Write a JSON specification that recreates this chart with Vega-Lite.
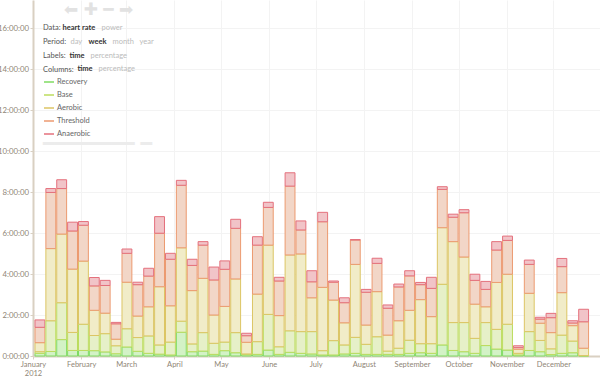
{
  "$schema": "https://vega.github.io/schema/vega-lite/v6.json",
  "width": 567,
  "height": 356,
  "autosize": {"type": "none"},
  "padding": {"left": 33, "top": 0, "right": 0, "bottom": 20},
  "background": "white",
  "config": {"view": {"stroke": null}, "font": "Lato"},
  "title": {"text": "⬅ ✚ ━ ➡", "anchor": "start", "orient": "top", "frame": "group", "offset": -19, "dx": 31, "fontSize": 17, "color": "#e2e2e2", "font": "DejaVu Sans", "fontWeight": "normal"},
  "resolve": {"scale": {"shape": "independent"}, "legend": {"shape": "independent"}},
  "layer": [
    {
      "data": {"values": [
        {"week":"2012-01-01","Recovery":0.13,"Base":0.08,"Aerobic":0.44,"Threshold":0.75,"Anaerobic":0.36},
        {"week":"2012-01-08","Recovery":0.22,"Base":1.50,"Aerobic":3.52,"Threshold":2.74,"Anaerobic":0.19},
        {"week":"2012-01-15","Recovery":0.80,"Base":1.80,"Aerobic":3.35,"Threshold":2.22,"Anaerobic":0.43},
        {"week":"2012-01-22","Recovery":0.27,"Base":0.88,"Aerobic":3.09,"Threshold":1.86,"Anaerobic":0.43},
        {"week":"2012-01-29","Recovery":0.27,"Base":1.28,"Aerobic":3.08,"Threshold":1.75,"Anaerobic":0.18},
        {"week":"2012-02-05","Recovery":0.26,"Base":0.74,"Aerobic":1.23,"Threshold":1.19,"Anaerobic":0.41},
        {"week":"2012-02-12","Recovery":0.20,"Base":0.89,"Aerobic":1.00,"Threshold":1.35,"Anaerobic":0.25},
        {"week":"2012-02-19","Recovery":0.11,"Base":0.39,"Aerobic":0.32,"Threshold":0.75,"Anaerobic":0.07},
        {"week":"2012-02-26","Recovery":0.44,"Base":0.89,"Aerobic":2.27,"Threshold":1.41,"Anaerobic":0.21},
        {"week":"2012-03-04","Recovery":0.23,"Base":0.67,"Aerobic":1.05,"Threshold":1.53,"Anaerobic":0.12},
        {"week":"2012-03-11","Recovery":0.13,"Base":0.85,"Aerobic":1.42,"Threshold":1.50,"Anaerobic":0.38},
        {"week":"2012-03-18","Recovery":0.09,"Base":0.45,"Aerobic":2.84,"Threshold":2.61,"Anaerobic":0.81},
        {"week":"2012-03-25","Recovery":0.05,"Base":0.63,"Aerobic":1.77,"Threshold":2.27,"Anaerobic":0.29},
        {"week":"2012-04-01","Recovery":1.16,"Base":0.54,"Aerobic":3.58,"Threshold":3.05,"Anaerobic":0.24},
        {"week":"2012-04-08","Recovery":0.21,"Base":0.38,"Aerobic":2.60,"Threshold":1.23,"Anaerobic":0.30},
        {"week":"2012-04-15","Recovery":0.24,"Base":0.90,"Aerobic":2.65,"Threshold":1.62,"Anaerobic":0.17},
        {"week":"2012-04-22","Recovery":0.08,"Base":0.54,"Aerobic":1.38,"Threshold":1.71,"Anaerobic":0.63},
        {"week":"2012-04-29","Recovery":0.26,"Base":0.42,"Aerobic":1.74,"Threshold":1.81,"Anaerobic":0.41},
        {"week":"2012-05-06","Recovery":0.16,"Base":0.98,"Aerobic":2.62,"Threshold":2.47,"Anaerobic":0.44},
        {"week":"2012-05-13","Recovery":0.06,"Base":0.04,"Aerobic":0.57,"Threshold":0.32,"Anaerobic":0.12},
        {"week":"2012-05-20","Recovery":0.08,"Base":0.62,"Aerobic":2.32,"Threshold":2.39,"Anaerobic":0.41},
        {"week":"2012-05-27","Recovery":0.29,"Base":1.74,"Aerobic":3.38,"Threshold":1.84,"Anaerobic":0.25},
        {"week":"2012-06-03","Recovery":0.08,"Base":0.37,"Aerobic":1.52,"Threshold":1.69,"Anaerobic":0.18},
        {"week":"2012-06-10","Recovery":0.18,"Base":1.05,"Aerobic":3.70,"Threshold":3.36,"Anaerobic":0.65},
        {"week":"2012-06-17","Recovery":0.13,"Base":1.06,"Aerobic":3.79,"Threshold":1.17,"Anaerobic":0.44},
        {"week":"2012-06-24","Recovery":0.10,"Base":1.09,"Aerobic":1.65,"Threshold":0.78,"Anaerobic":0.54},
        {"week":"2012-07-01","Recovery":0.05,"Base":0.21,"Aerobic":3.09,"Threshold":3.20,"Anaerobic":0.46},
        {"week":"2012-07-08","Recovery":0.05,"Base":0.70,"Aerobic":1.98,"Threshold":0.87,"Anaerobic":0.06},
        {"week":"2012-07-15","Recovery":0.10,"Base":0.44,"Aerobic":1.08,"Threshold":0.98,"Anaerobic":0.24},
        {"week":"2012-07-22","Recovery":0.13,"Base":0.78,"Aerobic":3.56,"Threshold":1.19,"Anaerobic":0.02},
        {"week":"2012-07-29","Recovery":0.08,"Base":0.49,"Aerobic":0.94,"Threshold":1.60,"Anaerobic":0.14},
        {"week":"2012-08-05","Recovery":0.08,"Base":0.86,"Aerobic":2.20,"Threshold":1.38,"Anaerobic":0.25},
        {"week":"2012-08-12","Recovery":0.08,"Base":0.16,"Aerobic":0.78,"Threshold":1.31,"Anaerobic":0.16},
        {"week":"2012-08-19","Recovery":0.08,"Base":0.30,"Aerobic":1.34,"Threshold":1.65,"Anaerobic":0.14},
        {"week":"2012-08-26","Recovery":0.13,"Base":0.64,"Aerobic":1.46,"Threshold":1.68,"Anaerobic":0.25},
        {"week":"2012-09-02","Recovery":0.16,"Base":0.44,"Aerobic":2.15,"Threshold":0.73,"Anaerobic":0.11},
        {"week":"2012-09-09","Recovery":0.13,"Base":0.47,"Aerobic":1.32,"Threshold":1.38,"Anaerobic":0.54},
        {"week":"2012-09-16","Recovery":0.54,"Base":2.96,"Aerobic":2.76,"Threshold":1.87,"Anaerobic":0.13},
        {"week":"2012-09-23","Recovery":0.27,"Base":1.36,"Aerobic":3.95,"Threshold":1.19,"Anaerobic":0.15},
        {"week":"2012-09-30","Recovery":0.21,"Base":1.42,"Aerobic":3.20,"Threshold":2.16,"Anaerobic":0.15},
        {"week":"2012-10-07","Recovery":0.13,"Base":0.73,"Aerobic":1.67,"Threshold":1.16,"Anaerobic":0.30},
        {"week":"2012-10-14","Recovery":0.51,"Base":1.12,"Aerobic":0.77,"Threshold":0.85,"Anaerobic":0.39},
        {"week":"2012-10-21","Recovery":0.34,"Base":0.96,"Aerobic":2.29,"Threshold":1.58,"Anaerobic":0.41},
        {"week":"2012-10-28","Recovery":0.29,"Base":1.26,"Aerobic":2.44,"Threshold":1.65,"Anaerobic":0.21},
        {"week":"2012-11-04","Recovery":0.05,"Base":0.08,"Aerobic":0.20,"Threshold":0.08,"Anaerobic":0.09},
        {"week":"2012-11-11","Recovery":0.27,"Base":0.92,"Aerobic":1.87,"Threshold":1.41,"Anaerobic":0.21},
        {"week":"2012-11-18","Recovery":0.21,"Base":0.55,"Aerobic":0.84,"Threshold":0.20,"Anaerobic":0.09},
        {"week":"2012-11-25","Recovery":0.07,"Base":0.28,"Aerobic":0.79,"Threshold":0.73,"Anaerobic":0.21},
        {"week":"2012-12-02","Recovery":0.13,"Base":0.89,"Aerobic":2.07,"Threshold":1.27,"Anaerobic":0.40},
        {"week":"2012-12-09","Recovery":0.16,"Base":0.57,"Aerobic":0.75,"Threshold":0.13,"Anaerobic":0.11},
        {"week":"2012-12-16","Recovery":0.01,"Base":0.01,"Aerobic":0.36,"Threshold":1.29,"Anaerobic":0.61}
      ]},
      "transform": [
        {"fold": ["Recovery", "Base", "Aerobic", "Threshold", "Anaerobic"], "as": ["zone", "hours"]},
        {"lookup": "zone", "from": {"data": {"values": [
          {"zone": "Recovery", "zi": 1}, {"zone": "Base", "zi": 2}, {"zone": "Aerobic", "zi": 3},
          {"zone": "Threshold", "zi": 4}, {"zone": "Anaerobic", "zi": 5}]}, "key": "zone", "fields": ["zi"]}}
      ],
      "mark": {"type": "bar", "strokeWidth": 1, "xOffset": 1},
      "encoding": {
        "x": {
          "field": "week", "type": "temporal", "timeUnit": "utcyearweek",
          "scale": {"domain": [{"year": 2012, "month": 1, "date": 1, "utc": true}, {"year": 2012, "month": 12, "date": 31, "utc": true}]},
          "axis": {
            "title": null, "tickCount": {"interval": "month", "step": 1},
            "labelExpr": "utcmonth(datum.value) == 0 ? [utcFormat(datum.value, '%B'), utcFormat(datum.value, '%Y')] : utcFormat(datum.value, '%B')",
            "labelFlush": false, "labelOverlap": false, "labelFontSize": 7.5, "labelColor": "#8f8576", "labelPadding": 1.5, "labelLineHeight": 8.5,
            "grid": true, "gridColor": "#f3f3f3", "domainColor": "#d9d0c2", "domainWidth": 2,
            "tickColor": "#d9d0c2", "tickSize": 3
          }
        },
        "y": {
          "field": "hours", "type": "quantitative", "stack": "zero",
          "scale": {"domain": [0, 17.37], "nice": false},
          "axis": {
            "title": null, "values": [0, 2, 4, 6, 8, 10, 12, 14, 16],
            "labelExpr": "datum.value + ':00:00'", "labelFontSize": 7.8, "labelColor": "#8f8576", "labelPadding": 1.5,
            "grid": true, "gridColor": "#f3f3f3", "domainColor": "#d9d0c2", "domainWidth": 2,
            "tickColor": "#d9d0c2", "tickSize": 3
          }
        },
        "fill": {
          "field": "zone", "type": "nominal",
          "scale": {"domain": ["Recovery", "Base", "Aerobic", "Threshold", "Anaerobic"], "range": ["#d3f2c6", "#e6f0c8", "#f1ecc8", "#f2d6c7", "#f1c4c8"]},
          "legend": {
            "orient": "none", "legendX": 10, "legendY": 76, "title": "━━━━━━━━ ━", "titleOrient": "bottom", "titlePadding": -3,
            "titleFont": "DejaVu Sans", "titleFontSize": 19, "titleColor": "#ececec", "titleFontWeight": "normal", "padding": 0,
            "symbolType": "stroke", "symbolSize": 100, "symbolStrokeWidth": 1.5,
            "labelFontSize": 7.5, "labelColor": "#666666", "labelOffset": 2, "rowPadding": 3
          }
        },
        "stroke": {
          "field": "zone", "type": "nominal",
          "scale": {"domain": ["Recovery", "Base", "Aerobic", "Threshold", "Anaerobic"], "range": ["#7fdb62", "#bcdc5e", "#dcc564", "#ec9a70", "#e4707c"]},
          "legend": {
            "orient": "none", "legendX": 10, "legendY": 76, "title": "━━━━━━━━ ━", "titleOrient": "bottom", "titlePadding": -3,
            "titleFont": "DejaVu Sans", "titleFontSize": 19, "titleColor": "#ececec", "titleFontWeight": "normal", "padding": 0,
            "symbolType": "stroke", "symbolSize": 100, "symbolStrokeWidth": 1.5,
            "labelFontSize": 7.5, "labelColor": "#666666", "labelOffset": 2, "rowPadding": 3
          }
        },
        "order": {"field": "zi", "type": "quantitative"}
      }
    },
    {
      "data": {"values": [{"o": "heart rate"}, {"o": "power"}]},
      "mark": {"type": "point", "opacity": 0, "size": 1},
      "encoding": {
        "shape": {
          "field": "o", "type": "nominal", "scale": {"domain": ["heart rate", "power"]},
          "legend": {
            "orient": "none", "legendX": 10, "legendY": 24, "direction": "horizontal", "padding": 0, "gridAlign": "none",
            "title": "Data:", "titleOrient": "left", "titlePadding": -6, "titleFontSize": 7.5, "titleFontWeight": "normal", "titleColor": "#555555",
            "symbolSize": 1, "symbolOpacity": 0, "symbolStrokeWidth": 0, "labelOffset": 0, "columnPadding": -2,
            "labelFontSize": 7.5,
            "labelFontWeight": {"expr": "datum.label === 'heart rate' ? 'bold' : 'normal'"},
            "labelColor": {"expr": "datum.label === 'heart rate' ? '#333333' : '#bbbbbb'"}
          }
        }
      }
    },
    {
      "data": {"values": [{"o": "day"}, {"o": "week"}, {"o": "month"}, {"o": "year"}]},
      "mark": {"type": "point", "opacity": 0, "size": 1},
      "encoding": {
        "shape": {
          "field": "o", "type": "nominal", "scale": {"domain": ["day", "week", "month", "year"]},
          "legend": {
            "orient": "none", "legendX": 10, "legendY": 38, "direction": "horizontal", "padding": 0, "gridAlign": "none",
            "title": "Period:", "titleOrient": "left", "titlePadding": -4, "titleFontSize": 7.5, "titleFontWeight": "normal", "titleColor": "#555555",
            "symbolSize": 1, "symbolOpacity": 0, "symbolStrokeWidth": 0, "labelOffset": 0, "columnPadding": -2,
            "labelFontSize": 7.5,
            "labelFontWeight": {"expr": "datum.label === 'week' ? 'bold' : 'normal'"},
            "labelColor": {"expr": "datum.label === 'week' ? '#333333' : '#bbbbbb'"}
          }
        }
      }
    },
    {
      "data": {"values": [{"o": "time"}, {"o": "percentage"}]},
      "mark": {"type": "point", "opacity": 0, "size": 1},
      "encoding": {
        "shape": {
          "field": "o", "type": "nominal", "scale": {"domain": ["time", "percentage"]},
          "legend": {
            "orient": "none", "legendX": 10, "legendY": 52, "direction": "horizontal", "padding": 0, "gridAlign": "none",
            "title": "Labels:", "titleOrient": "left", "titlePadding": -4, "titleFontSize": 7.5, "titleFontWeight": "normal", "titleColor": "#555555",
            "symbolSize": 1, "symbolOpacity": 0, "symbolStrokeWidth": 0, "labelOffset": 0, "columnPadding": -2,
            "labelFontSize": 7.5,
            "labelFontWeight": {"expr": "datum.label === 'time' ? 'bold' : 'normal'"},
            "labelColor": {"expr": "datum.label === 'time' ? '#333333' : '#bbbbbb'"}
          }
        }
      }
    },
    {
      "data": {"values": [{"o": "time"}, {"o": "percentage"}]},
      "mark": {"type": "point", "opacity": 0, "size": 1},
      "encoding": {
        "shape": {
          "field": "o", "type": "nominal", "scale": {"domain": ["time", "percentage"]},
          "legend": {
            "orient": "none", "legendX": 10, "legendY": 65.5, "direction": "horizontal", "padding": 0, "gridAlign": "none",
            "title": "Columns:", "titleOrient": "left", "titlePadding": -4, "titleFontSize": 7.5, "titleFontWeight": "normal", "titleColor": "#555555",
            "symbolSize": 1, "symbolOpacity": 0, "symbolStrokeWidth": 0, "labelOffset": 0, "columnPadding": -2,
            "labelFontSize": 7.5,
            "labelFontWeight": {"expr": "datum.label === 'time' ? 'bold' : 'normal'"},
            "labelColor": {"expr": "datum.label === 'time' ? '#333333' : '#bbbbbb'"}
          }
        }
      }
    }
  ]
}
